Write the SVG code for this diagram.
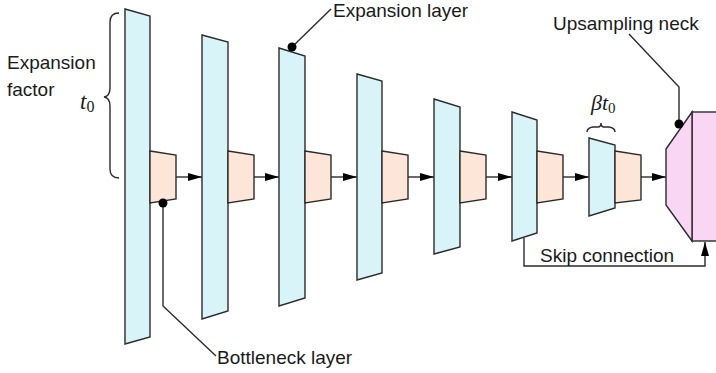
<svg xmlns="http://www.w3.org/2000/svg" width="716" height="373" viewBox="0 0 716 373">
<defs>
<style>
.exp{fill:#d9f4f8;stroke:#2b2b2b;stroke-width:1.4;stroke-linejoin:miter}
.bot{fill:#fde6d8;stroke:#2b2b2b;stroke-width:1.4}
.neck{fill:#f8d6f4;stroke:#2b2b2b;stroke-width:1.4}
.ln{fill:none;stroke:#2b2b2b;stroke-width:1.4}
.lbl{font-family:"Liberation Sans",Arial,sans-serif;font-size:19px;fill:#1a1a1a}
.math{font-family:"Liberation Serif","Times New Roman",serif;font-style:italic;fill:#1a1a1a}
.dot{fill:#000}
</style>
<marker id="ah" viewBox="0 0 14 8" refX="14" refY="4" markerWidth="14" markerHeight="8" markerUnits="userSpaceOnUse" orient="auto">
<path d="M0,0 L14,4 L0,8 Z" fill="#000"/>
</marker>
</defs>
<rect width="716" height="373" fill="#fff"/>

<g id="connectors">
<line class="ln" x1="176" y1="177" x2="202" y2="177" marker-end="url(#ah)"/>
<line class="ln" x1="254" y1="177" x2="279" y2="177" marker-end="url(#ah)"/>
<line class="ln" x1="331" y1="177" x2="357" y2="177" marker-end="url(#ah)"/>
<line class="ln" x1="408" y1="177" x2="434" y2="177" marker-end="url(#ah)"/>
<line class="ln" x1="486" y1="177" x2="512" y2="177" marker-end="url(#ah)"/>
<line class="ln" x1="563" y1="177" x2="589" y2="177" marker-end="url(#ah)"/>
<line class="ln" x1="641" y1="177" x2="666" y2="177" marker-end="url(#ah)"/>
<polyline id="skip" class="ln" points="524,238 524,266 705,266 705,242" marker-end="url(#ah)"/>
</g>

<g id="expansion1"><polygon class="exp" points="125,9 150,16 150,337 125,344"/></g>
<g id="bottleneck1"><polygon class="bot" points="150,151 176,155 176,199 150,203"/></g>
<g id="expansion2"><polygon class="exp" points="202,35 228,42 228,311 202,319"/></g>
<g id="bottleneck2"><polygon class="bot" points="228,151 254,155 254,199 228,203"/></g>
<g id="expansion3"><polygon class="exp" points="279,48 305,56 305,298 279,306"/></g>
<g id="bottleneck3"><polygon class="bot" points="305,151 331,155 331,199 305,203"/></g>
<g id="expansion4"><polygon class="exp" points="357,74 382,81 382,273 357,280"/></g>
<g id="bottleneck4"><polygon class="bot" points="382,151 408,155 408,199 382,203"/></g>
<g id="expansion5"><polygon class="exp" points="434,99 460,107 460,247 434,254"/></g>
<g id="bottleneck5"><polygon class="bot" points="460,151 486,155 486,199 460,203"/></g>
<g id="expansion6"><polygon class="exp" points="512,112 537,120 537,233 512,241"/></g>
<g id="bottleneck6"><polygon class="bot" points="537,151 563,155 563,199 537,203"/></g>
<g id="expansion7"><polygon class="exp" points="589,138 615,145 615,208 589,216"/></g>
<g id="bottleneck7"><polygon class="bot" points="615,151 641,155 641,200 615,203"/></g>

<g id="neck">
<rect class="neck" x="692" y="112" width="40" height="129"/>
<polygon class="neck" points="666,149 692,112 692,241 666,205"/>
</g>

<g id="label-expansion-factor">
<text class="lbl" x="7" y="69">Expansion</text>
<text class="lbl" x="7" y="96">factor</text>
<path class="ln" d="M119,13 Q110,13 110,22 L110,88 Q110,96 104,97 Q110,98 110,106 L110,169 Q110,178 119,178"/>
<text class="math" x="80" y="109" font-size="23">t<tspan font-size="16" dy="3" font-style="normal">0</tspan></text>
</g>

<g id="label-expansion-layer">
<polyline class="ln" points="292,47 331,9"/>
<circle class="dot" cx="292" cy="47" r="4.5"/>
<text class="lbl" x="333" y="17">Expansion layer</text>
</g>

<g id="label-bottleneck-layer">
<polyline class="ln" points="163,203 163,306 216,356"/>
<circle class="dot" cx="163" cy="203" r="4.5"/>
<text class="lbl" x="217" y="364">Bottleneck layer</text>
</g>

<g id="label-upsampling-neck">
<polyline class="ln" points="629,34 679,87 679,124"/>
<circle class="dot" cx="679" cy="124" r="4.5"/>
<text class="lbl" x="553" y="30">Upsampling neck</text>
</g>

<g id="label-skip">
<text class="lbl" x="540" y="262">Skip connection</text>
</g>

<g id="label-beta">
<text class="math" x="591" y="110" font-size="22">βt<tspan font-size="15" dy="3" font-style="normal">0</tspan></text>
<path class="ln" d="M587,132 Q587,128 593,127 L598,127 Q601,127 601,123 Q601,127 604,127 L609,127 Q615,128 615,132"/>
</g>
</svg>
